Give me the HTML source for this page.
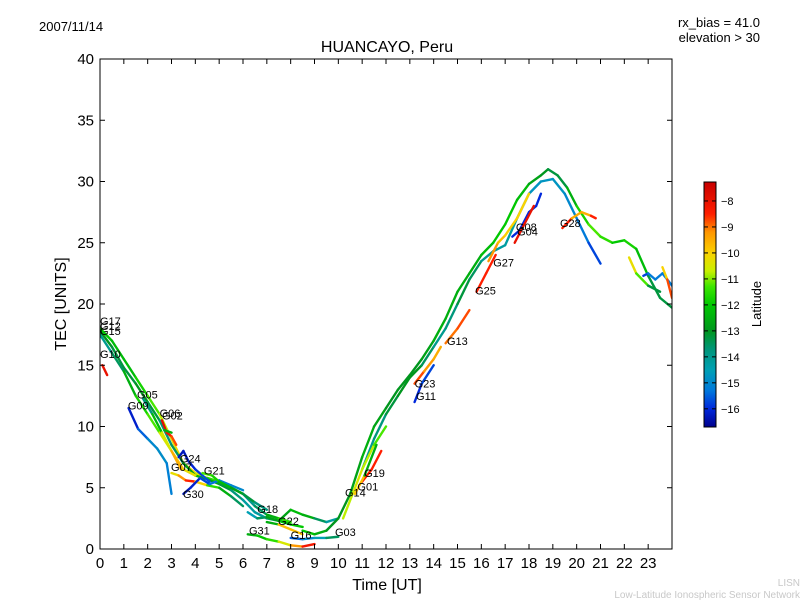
<!DOCTYPE html>
<html><head><meta charset="utf-8"><style>
html,body{margin:0;padding:0;background:#fff;}
svg text{font-family:"Liberation Sans","DejaVu Sans",sans-serif;}
</style></head><body>
<svg id="chart" width="800" height="600" xmlns="http://www.w3.org/2000/svg">
<defs>
<linearGradient id="cmap" x1="0" y1="1" x2="0" y2="0"></linearGradient>
<clipPath id="clip"><rect x="100" y="59" width="572" height="490"/></clipPath>
</defs>
<text x="39" y="31" font-size="13">2007/11/14</text>
<text x="760" y="27" font-size="13" text-anchor="end">rx_bias = 41.0</text>
<text x="760" y="42" font-size="13" text-anchor="end">elevation &gt; 30</text>
<text x="387" y="52" font-size="16" text-anchor="middle">HUANCAYO, Peru</text>
<g id="series" clip-path="url(#clip)"></g>
<g id="labels"></g>
<rect x="100" y="59" width="572" height="490" fill="none" stroke="#000" stroke-width="1"/>
<g id="axes"></g>
<text x="387" y="590" font-size="16" text-anchor="middle">Time [UT]</text>
<text transform="translate(66,304) rotate(-90)" font-size="16" text-anchor="middle">TEC [UNITS]</text>
<rect x="704" y="182" width="12" height="245" fill="url(#cmap)" stroke="#000" stroke-width="1"/>
<g id="cbticks"></g>
<text transform="translate(761,304) rotate(-90)" font-size="13" text-anchor="middle">Latitude</text>
<text x="800" y="586" font-size="10" fill="#c8c8c8" text-anchor="end">LISN</text>
<text x="800" y="598" font-size="10" fill="#c8c8c8" text-anchor="end">Low-Latitude Ionospheric Sensor Network</text>
</svg>
<script>
const xTicks=[0,1,2,3,4,5,6,7,8,9,10,11,12,13,14,15,16,17,18,19,20,21,22,23];
const yTicks=[0,5,10,15,20,25,30,35,40];
const cbTicks=[-8,-9,-10,-11,-12,-13,-14,-15,-16];
const seriesTimes=[
[0,0.5,1,1.5,2,2.5,3,3.5,4,4.5,5,5.5,6,6.5,7,7.5,8],
[0,0.5,1,1.5,2,2.5,3,3.5,4,4.5,5,5.5,6,6.5,7,7.5,8,8.5,9,9.5,10],
[0,0.5,1,1.5,2,2.5,3,3.5,4],
[0.1,0.3],
[1.8,2.2,2.6,3,3.4],
[1.2,1.6,2,2.4,2.8,3],
[2.6,2.8,3,3.2],
[2.7,3.0],
[3.3,3.5,3.7,4,4.3,4.6],
[3.0,3.3,3.6,4,4.5,5,5.5,6],
[3.5,3.8,4.2,4.6,5,5.5,6],
[4.3,4.7,5,5.5,6,6.5,7],
[6.2,6.6,7,7.5,8,8.5],
[7,7.5,8,8.5],
[6.2,6.6,7,7.5,8,8.5,9],
[8,8.5,9,9.5,10],
[8.5,9,9.5,10,10.5,11,11.5,12,12.5,13,13.5,14,14.5,15,15.5,16,16.5,17,17.5,18,18.5,18.8,19.2,19.6,20,20.5,21,21.5,22,22.5,23,23.5,24],
[11,11.5,12,12.5,13,13.5,14,14.5,15,15.5,16,16.5,17,17.5,18,18.5,19,19.5,20,20.5,21],
[10.2,10.6,11,11.5,12],
[11,11.4,11.8],
[10.7,11.1,11.6],
[13.2,13.6,14,14.3],
[13.2,13.5,14],
[14.5,15,15.5],
[15.8,16.2,16.6],
[16.3,16.7,17,17.5,18],
[17.3,17.6,18,18.3,18.5],
[17.4,17.8,18.2],
[19.4,19.8,20.2,20.6,20.8],
[22.2,22.5,23,23.5],
[22.8,23,23.3,23.6,24],
[23.6,23.8,24]
];
const seriesTec=[
[18,17,15.5,14,12.5,11,9,7,6.2,5.8,5.5,5,4.5,3.5,2.8,2.5,2.2],
[17.8,16.5,14.8,13.5,12,10.5,8.5,7,6,5.7,5.3,4.8,4,3,2.5,2.3,3.2,2.8,2.5,2.2,2.5],
[17.5,16,14.5,12.5,11,9.5,8,6.5,6],
[15,14.2],
[12.3,11,9.5,8,6.5],
[11.5,9.8,9,8.2,7,4.5],
[10.5,9.5,9.2,8.5],
[9.7,9.5],
[7.5,8,7.2,6.5,6,5.5],
[6.2,6,5.6,5.5,5.2,5,4.3,3.5],
[4.5,5,5.8,5.3,5.6,5.2,4.8],
[6.2,6,5.5,5,4.5,3.8,3.2],
[3,2.5,2.6,2.3,2,1.8],
[2.2,2,1.6,1.2],
[1.2,1.1,0.8,0.6,0.3,0.2,0.4],
[0.9,0.8,0.9,0.9,1.0],
[1.5,1.2,1.5,2.5,4.5,7.5,10,11.5,13,14.2,15.5,17,18.8,21,22.5,24,25,26.5,28.5,29.8,30.5,31,30.5,29.5,28,26.5,25.5,25,25.2,24.5,22.3,20.5,19.7],
[6.5,9,11,12.5,14,15,16.5,18,20,22,23.5,24.3,24.8,27,29,30,30.2,29,27,25,23.3],
[2.5,4.5,6.5,8.5,10],
[5.5,6.5,8],
[4.5,6,8.5],
[13.5,14.5,15.5,16.5],
[12,13.5,15],
[16.8,18,19.5],
[21,22.5,24],
[23.5,25,25.6,27,29],
[25.5,26,27.5,28,29],
[25,26.5,28],
[26.2,27,27.5,27.2,27],
[23.8,22.5,21.5,21],
[22.3,22.5,22,22.5,21.5],
[23,22,20.5]
];
const seriesLat=[
[-12,-12,-12.5,-12,-11.5,-11,-10.5,-10,-10,-11,-12,-13,-14,-14,-13,-12,-11],
[-13,-13,-13.5,-13,-13,-13.5,-14,-13,-12.5,-12.5,-13,-13.5,-14,-14.5,-14,-13,-12.5,-12,-13,-14,-14.5],
[-14,-14,-13,-12,-11.5,-11,-10,-9.5,-11],
[-8,-8],
[-14,-13.5,-11,-10,-9],
[-16.3,-16,-15,-15,-14.8,-15.5],
[-8,-7.8,-8.5,-9],
[-12,-13],
[-16.3,-16.3,-16.2,-16,-15.8,-15.5],
[-10,-10.5,-8,-9,-11,-12,-13,-14],
[-16.3,-16.2,-16,-15.5,-15.2,-15,-15],
[-11,-11.5,-12,-12.5,-13,-13.5,-14],
[-15,-14,-13,-12.5,-12,-12],
[-15,-10,-9.5,-10],
[-13,-12,-12,-11,-10,-8.5,-8],
[-16,-15,-15,-14,-13],
[-12,-12,-13,-13,-13,-12.5,-12.5,-13,-13,-13,-13,-12.5,-12.5,-12.5,-12.5,-12.5,-12,-12,-12,-12.5,-13,-13,-13.5,-13,-12,-11.5,-11,-12,-12,-11.5,-13,-13.5,-13],
[-14,-14,-13.5,-13,-13,-13,-14,-14,-13.5,-13,-14,-14,-14.5,-14,-14.5,-15,-14.5,-15,-15,-15.5,-16],
[-11,-10.5,-10.5,-11,-11.5],
[-8.5,-8.5,-8.5],
[-9.5,-10,-15],
[-8.5,-9,-9.5,-9.5],
[-16,-16,-15.5],
[-9,-9,-8.5],
[-8.5,-8.5,-8.5],
[-9,-9.5,-10,-10,-10],
[-16,-16,-16,-16,-16],
[-8,-8,-8],
[-8,-9,-10,-9,-8],
[-10,-10.5,-12,-14.5],
[-16,-15.5,-15,-15.5,-15],
[-10.5,-9.5,-8]
];
const labelText=["G17","G12","G15","G10","G05","G09","G06","G02","G24","G07","G30","G21","G18","G22","G31","G16","G03","G14","G01","G19","G23","G11","G13","G25","G27","G08","G04","G28"];
const labelT=[0,0,0,0,1.55,1.17,2.5,2.6,3.35,2.98,3.48,4.36,6.6,7.47,6.25,8.0,9.86,10.28,10.8,11.08,13.2,13.26,14.56,15.74,16.5,17.45,17.5,19.3];
const labelV=[18.6,18.2,17.8,15.9,12.6,11.7,11.1,10.9,7.4,6.7,4.5,6.4,3.25,2.3,1.5,1.15,1.4,4.6,5.1,6.2,13.5,12.5,17,21.1,23.4,26.3,25.9,26.6];

const NS="http://www.w3.org/2000/svg";
const X0=100,X1=672,Y0=549,Y1=59;
function xs(t){return X0+(X1-X0)*t/24;}
function ys(v){return Y0-(Y0-Y1)*v/40;}
const LATMIN=-16.7,LATMAX=-7.27;
function cbY(l){return 427-(427-182)*(l-LATMIN)/(LATMAX-LATMIN);}
const CMAP=[[-16.7,0,0,140],[-16,0,40,220],[-15.3,0,120,220],[-14.5,0,160,180],[-13.7,0,150,120],[-13,0,150,30],[-12,0,200,0],[-11.3,60,230,0],[-10.7,200,240,0],[-10,250,210,0],[-9.2,255,150,0],[-8.5,255,30,0],[-7.27,200,0,0]];
function cmap(l){
 if(l<=CMAP[0][0])return `rgb(${CMAP[0].slice(1)})`;
 for(let i=1;i<CMAP.length;i++){
  if(l<=CMAP[i][0]){const a=CMAP[i-1],b=CMAP[i],f=(l-a[0])/(b[0]-a[0]);
   return `rgb(${[1,2,3].map(k=>Math.round(a[k]+(b[k]-a[k])*f))})`;}
 }
 return `rgb(${CMAP[CMAP.length-1].slice(1)})`;
}
function mk(tag,attrs,parent){const e=document.createElementNS(NS,tag);for(const k in attrs)e.setAttribute(k,attrs[k]);parent.appendChild(e);return e;}
const grad=document.getElementById('cmap');
CMAP.forEach(s=>{mk('stop',{offset:(s[0]-LATMIN)/(LATMAX-LATMIN),'stop-color':`rgb(${s.slice(1)})`},grad);});
const sg=document.getElementById('series');
seriesTimes.forEach((ts,i)=>{
 const g=mk('g',{},sg);
 
 
 for(let j=0;j<ts.length-1;j++){
  const ln=mk('line',{x1:xs(ts[j]),y1:ys(seriesTec[i][j]),x2:xs(ts[j+1]),y2:ys(seriesTec[i][j+1]),stroke:cmap((seriesLat[i][j]+seriesLat[i][j+1])/2),'stroke-width':2.4,'stroke-linecap':'round'},g);
  
  
 }
});
const lg=document.getElementById('labels');
labelText.forEach((s,i)=>{
 const t=mk('text',{x:xs(labelT[i]),y:ys(labelV[i])+4,'font-size':11},lg);
 
 
 t.textContent=s;
});
const ax=document.getElementById('axes');
xTicks.forEach(v=>{
 const x=xs(v);
 mk('line',{x1:x,y1:Y0,x2:x,y2:Y0-5,stroke:'#000'},ax);
 mk('line',{x1:x,y1:Y1,x2:x,y2:Y1+5,stroke:'#000'},ax);
 const t=mk('text',{x:x,y:568,'font-size':15,'text-anchor':'middle'},ax);
 
 
 t.textContent=v;
});
yTicks.forEach(v=>{
 const y=ys(v);
 mk('line',{x1:X0,y1:y,x2:X0+5,y2:y,stroke:'#000'},ax);
 mk('line',{x1:X1,y1:y,x2:X1-5,y2:y,stroke:'#000'},ax);
 const t=mk('text',{x:94,y:y+5,'font-size':15,'text-anchor':'end'},ax);
 
 
 t.textContent=v;
});
const cb=document.getElementById('cbticks');
cbTicks.forEach(v=>{
 const y=cbY(v);
 mk('line',{x1:704,y1:y,x2:708,y2:y,stroke:'#000'},cb);
 mk('line',{x1:716,y1:y,x2:712,y2:y,stroke:'#000'},cb);
 const t=mk('text',{x:721,y:y+4,'font-size':11},cb);
 
 
 t.textContent='\u2212'+Math.abs(v);
});
</script>
</body></html>
